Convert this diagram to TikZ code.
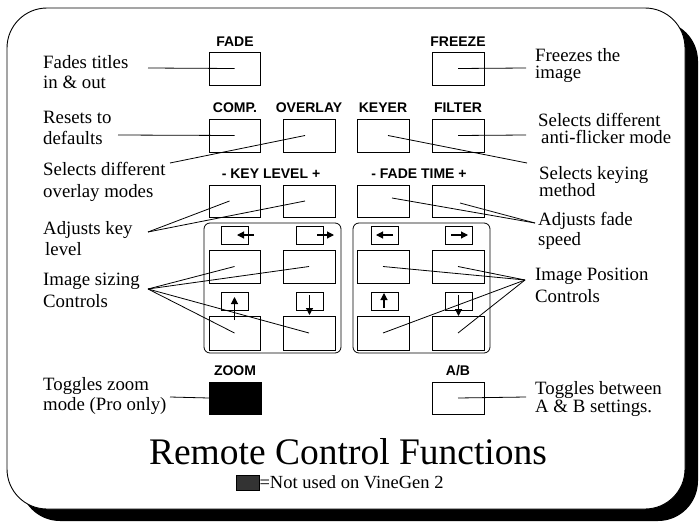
\documentclass[tikz,border=0pt]{standalone}
\usepackage{fontspec}
\setmainfont{Liberation Serif}
\newfontfamily\btnfont{Liberation Sans}
\usetikzlibrary{arrows.meta}
\definecolor{legendgray}{HTML}{333333}
\newcommand\mytwo[3]{\vtop{\baselineskip=#1\lineskiplimit=-30pt\relax\hbox{#2}\hbox{#3}}}
\tikzset{
  btn/.style={draw, line width=0.8pt, minimum width=51pt, minimum height=33pt, inner sep=0pt, outer sep=0pt},
  sbtn/.style={draw, line width=0.8pt, minimum width=27pt, minimum height=18pt, inner sep=0pt, outer sep=0pt},
  lbl/.style={anchor=base west, inner sep=0pt, font=\fontsize{18.8}{20}\selectfont},
  blbl/.style={anchor=base, inner sep=0pt, font=\btnfont\bfseries\fontsize{14}{15}\selectfont},
  lead/.style={line width=0.8pt},
  grp/.style={draw, line width=0.8pt, rounded corners=6pt},
  tiny arrow/.style={line width=1.1pt, -{Triangle[length=7pt,width=7pt]}}
}
\begin{document}
\begin{tikzpicture}[x=1pt,y=-1pt]
\useasboundingbox (0,0) rectangle (699,522);
% shadow and panel
\fill[black, rounded corners=40pt] (20,21) rectangle (698,521);
\draw[fill=white, line width=0.9pt, rounded corners=40pt] (7,8) rectangle (685,509);

% button labels
\node[blbl] (lfade) at (235,46) {FADE};
\node[blbl] (lfreeze) at (458,46) {FREEZE};
\node[blbl] (lcomp) at (235,112) {COMP.};
\node[blbl] (loverlay) at (309,112) {OVERLAY};
\node[blbl] (lkeyer) at (383,112) {KEYER};
\node[blbl] (lfilter) at (458,112) {FILTER};
\node[blbl] (lkeylevel) at (271,178) {- KEY LEVEL +};
\node[blbl] (lfadetime) at (419,178) {- FADE TIME +};
\node[blbl] (lzoom) at (235,375) {ZOOM};
\node[blbl] (lab) at (458,375) {A/B};

% buttons
\node[btn] (fade) at (234.5,68.5) {};
\node[btn, minimum width=52pt] (freeze) at (458,68.5) {};
\node[btn] (comp) at (234.5,135.5) {};
\node[btn, minimum width=52pt] (overlay) at (309,135.5) {};
\node[btn, minimum width=52pt] (keyer) at (383,135.5) {};
\node[btn, minimum width=52pt] (filter) at (458,135.5) {};
\node[btn, minimum height=32pt] (klminus) at (234.5,201) {};
\node[btn, minimum width=52pt, minimum height=32pt] (klplus) at (309,201) {};
\node[btn, minimum width=52pt, minimum height=32pt] (ftminus) at (383,201) {};
\node[btn, minimum width=52pt, minimum height=32pt] (ftplus) at (458,201) {};

% groups
\node[grp, minimum width=137pt, minimum height=130pt, inner sep=0pt] (gleft) at (272.5,288) {};
\node[grp, minimum width=137pt, minimum height=130pt, inner sep=0pt] (gright) at (421.5,288) {};

% left group
\node[sbtn] (sl1) at (234.5,235) {};
\node[sbtn] (sl2) at (309.5,235) {};
\node[btn] (bl1) at (234.5,266.5) {};
\node[btn, minimum width=52pt] (bl2) at (309,266.5) {};
\node[sbtn] (sl3) at (234.5,301) {};
\node[sbtn] (sl4) at (309.5,301) {};
\node[btn, minimum height=34pt] (bl3) at (234.5,333) {};
\node[btn, minimum width=52pt, minimum height=34pt] (bl4) at (309,333) {};
% right group
\node[sbtn] (sr1) at (384.5,235) {};
\node[sbtn] (sr2) at (458.5,235) {};
\node[btn, minimum width=52pt] (br1) at (383,266.5) {};
\node[btn, minimum width=52pt] (br2) at (458,266.5) {};
\node[sbtn] (sr3) at (384.5,301) {};
\node[sbtn] (sr4) at (458.5,301) {};
\node[btn, minimum width=52pt, minimum height=34pt] (br3) at (383,333) {};
\node[btn, minimum width=52pt, minimum height=34pt] (br4) at (458,333) {};

% direction arrows
\draw[tiny arrow] (254,235) -- (237,235);
\draw[tiny arrow] (317,235) -- (334,235);
\draw[tiny arrow] (234.5,320) -- (234.5,297);
\draw[tiny arrow] (309.5,295) -- (309.5,315);
\draw[tiny arrow] (393,235) -- (376,235);
\draw[tiny arrow] (451,235) -- (468,235);
\draw[tiny arrow] (384,308) -- (384,293);
\draw[tiny arrow] (458.5,295) -- (458.5,316);

% zoom and A/B
\node[btn, fill=black, minimum width=52pt, minimum height=32pt] (zoom) at (235,398) {};
\node[btn, minimum width=52pt, minimum height=32pt] (ab) at (458,398) {};

% left texts
\node[lbl] (t1) at (43,68) {\mytwo{20pt}{Fades titles}{in \& out}};
\node[lbl] (t2) at (43,123) {\mytwo{21pt}{Resets to}{defaults}};
\node[lbl] (t3) at (43,175) {\mytwo{22pt}{Selects different}{overlay modes}};
\node[lbl] (t4) at (43,234) {\mytwo{21pt}{Adjusts key}{\hspace{2pt}level}};
\node[lbl] (t5) at (43,285) {\mytwo{22pt}{Image sizing}{Controls}};
\node[lbl] (t6) at (43,390) {\mytwo{20pt}{Toggles zoom}{mode (Pro only)}};
% right texts
\node[lbl] (r1) at (535,61) {\mytwo{17.5pt}{Freezes the}{image}};
\node[lbl] (r2) at (538,126) {\mytwo{17pt}{Selects different}{\hspace{3pt}anti-flicker mode}};
\node[lbl] (r3) at (539,179) {\mytwo{17pt}{Selects keying}{method}};
\node[lbl] (r4) at (538,225) {\mytwo{20pt}{Adjusts fade}{speed}};
\node[lbl] (r5) at (535,280) {\mytwo{22pt}{Image Position}{Controls}};
\node[lbl] (r6) at (535,394) {\mytwo{18pt}{Toggles between}{A \& B settings.}};

% leader free ends
\coordinate (e1) at (148,68);
\coordinate (e2) at (118,135);
\coordinate (e3) at (170,163);
\coordinate (e4) at (148,232);
\coordinate (e5) at (148,289);
\coordinate (e6) at (170,397);
\coordinate (f1) at (526,68);
\coordinate (f2) at (526,135);
\coordinate (f3) at (527,163);
\coordinate (f4) at (535,223);
\coordinate (f5) at (525,280);
\coordinate (f6) at (526,397);

% leaders
\draw[lead] (e1) -- (fade.center);
\draw[lead] (e2) -- (comp.center);
\draw[lead] (e3) -- ([xshift=-4pt]overlay.center);
\draw[lead] (e4) -- ([xshift=-5pt]klminus.center);
\draw[lead] (e4) -- ([xshift=-4pt]klplus.center);
\draw[lead] (e5) -- (bl1.center);
\draw[lead] (e5) -- (bl2.center);
\draw[lead] (e5) -- (bl3.center);
\draw[lead] (e5) -- (bl4.center);
\draw[lead] (e6) -- (zoom.west);
\draw[lead] (freeze.center) -- (f1);
\draw[lead] (filter.center) -- (f2);
\draw[lead] ([xshift=5pt]keyer.center) -- (f3);
\draw[lead] ([xshift=9pt,yshift=3pt]ftminus.center) -- (f4);
\draw[lead] ([xshift=2pt,yshift=-2pt]ftplus.center) -- (f4);
\draw[lead] (br1.center) -- (f5);
\draw[lead] (br2.center) -- (f5);
\draw[lead] (br3.center) -- (f5);
\draw[lead] (br4.center) -- (f5);
\draw[lead] (ab.center) -- (f6);

% title and legend
\node[anchor=base, inner sep=0pt, font=\fontsize{37.5}{40}\selectfont] (title) at (348,464.5) {Remote Control Functions};
\node[draw, fill=legendgray, line width=0.6pt, minimum width=23pt, minimum height=15pt, inner sep=0pt] (legbox) at (247.5,482.5) {};
\node[anchor=base west, inner sep=0pt, font=\fontsize{18.5}{20}\selectfont] (legtext) at (legbox.east |- 0,488.5) {=Not used on VineGen 2};
\end{tikzpicture}
\end{document}
